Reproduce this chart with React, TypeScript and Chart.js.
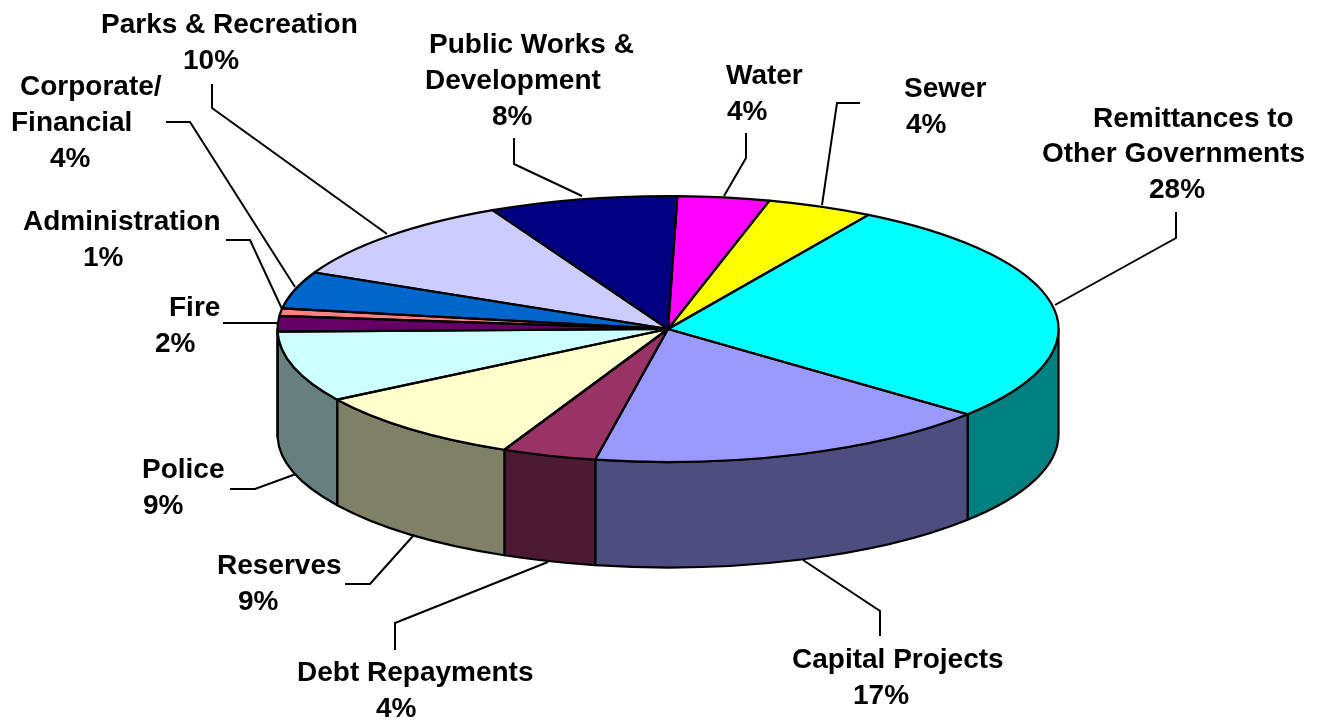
import React, { useEffect, useRef } from "react";
import { Chart, registerables } from "chart.js";

Chart.register(...registerables);

const categories = [
  "Remittances to\nOther Governments",
  "Capital Projects",
  "Debt Repayments",
  "Reserves",
  "Police",
  "Fire",
  "Administration",
  "Corporate/\nFinancial",
  "Parks & Recreation",
  "Public Works &\nDevelopment",
  "Water",
  "Sewer",
];
const percentLabels = ["28%", "17%", "4%", "9%", "9%", "2%", "1%", "4%", "10%", "8%", "4%", "4%"];
const values = [27.5, 16.9, 3.9, 9.2, 8.6, 1.9, 0.9, 4.5, 10.6, 7.8, 3.8, 4.4];
const sliceColors = ["#00FFFF", "#9999FF", "#993366", "#FFFFCC", "#CCFFFF", "#660066", "#FF8080", "#0066CC", "#CCCCFF", "#000080", "#FF00FF", "#FFFF00"];
const wallColors = ["#008080", "#4D4D80", "#4D1A33", "#808066", "#668080", "#330033", "#804040", "#003366", "#666680", "#000040", "#800080", "#808000"];

// Layout only: per-category text line anchors [left x, baseline y], and leader polylines.
const labelAnchors: number[][][] = [
  [[1093, 127], [1042, 162], [1149, 198]],
  [[792, 668], [853, 704]],
  [[297, 681], [376, 717]],
  [[217, 574], [238, 610]],
  [[142, 478], [143, 514]],
  [[169, 316], [155, 352]],
  [[23, 230], [83, 266]],
  [[20, 95], [11, 131], [50, 167]],
  [[101, 33], [183, 69]],
  [[429, 53], [425, 89], [492, 125]],
  [[726, 84], [727, 120]],
  [[904, 97], [906, 133]],
];
const leaders: number[][][] = [
  [[1176, 212], [1176, 238], [1055, 305]],
  [[880, 636], [880, 611], [803, 560]],
  [[395, 650], [395, 623], [548, 562]],
  [[345, 584], [370, 584], [413, 536]],
  [[230, 489], [255, 489], [296, 474]],
  [[223, 323], [278, 323]],
  [[226, 240], [250, 240], [282, 309]],
  [[166, 122], [190, 122], [295, 287]],
  [[212, 84], [212, 108], [387, 234]],
  [[514, 138], [514, 164], [582, 196]],
  [[746, 133], [746, 158], [724, 196]],
  [[860, 103], [837, 103], [822, 205]],
];

const CX = 668;
const CY = 329;
const RX = 390.5;
const RY = 133;
const DEPTH = 105.5;
const LABEL_FONT = 'bold 28px "Liberation Sans", Arial, sans-serif';

const pie3d = {
  id: "pie3d",
  beforeDatasetsDraw(chart: any) {
    const ctx = chart.ctx;
    const arcs = chart.getDatasetMeta(0).data;
    // Side walls: only the front half of the pie shows its rim.
    ctx.save();
    ctx.lineWidth = 2.2;
    ctx.strokeStyle = "#000";
    ctx.lineJoin = "round";
    arcs.forEach((arc: any, i: number) => {
      const s = Math.max(arc.startAngle, 0);
      const e = Math.min(arc.endAngle, Math.PI);
      if (s >= e) return;
      ctx.beginPath();
      ctx.ellipse(CX, CY, RX, RY, 0, s, e);
      ctx.ellipse(CX, CY + DEPTH, RX, RY, 0, e, s, true);
      ctx.closePath();
      ctx.fillStyle = wallColors[i];
      ctx.fill();
      ctx.stroke();
    });
    ctx.restore();
    // Squash the library's circular arcs to the tilted top face.
    const first = arcs[0];
    const r = first.outerRadius;
    ctx.save();
    ctx.translate(CX, CY);
    ctx.scale(RX / r, RY / r);
    ctx.translate(-first.x, -first.y);
  },
  afterDatasetsDraw(chart: any) {
    const ctx = chart.ctx;
    ctx.restore();
    const arcs = chart.getDatasetMeta(0).data;
    ctx.save();
    ctx.lineWidth = 2.2;
    ctx.strokeStyle = "#000";
    ctx.lineJoin = "round";
    arcs.forEach((arc: any) => {
      ctx.beginPath();
      ctx.moveTo(CX, CY);
      ctx.ellipse(CX, CY, RX, RY, 0, arc.startAngle, arc.endAngle);
      ctx.closePath();
      ctx.stroke();
    });
    // Leader lines
    ctx.lineWidth = 2;
    ctx.lineJoin = "miter";
    leaders.forEach((pts) => {
      ctx.beginPath();
      pts.forEach(([x, y], k) => (k ? ctx.lineTo(x, y) : ctx.moveTo(x, y)));
      ctx.stroke();
    });
    // Labels
    ctx.fillStyle = "#000";
    ctx.font = LABEL_FONT;
    ctx.textAlign = "left";
    ctx.textBaseline = "alphabetic";
    categories.forEach((name, i) => {
      const lines = [...name.split("\n"), percentLabels[i]];
      lines.forEach((t, k) => {
        const [x, y] = labelAnchors[i][k];
        ctx.fillText(t, x, y);
      });
    });
    ctx.restore();
  },
};

export default function App() {
  const ref = useRef<HTMLCanvasElement>(null);
  useEffect(() => {
    const chart = new Chart(ref.current!, {
      type: "pie",
      data: {
        labels: categories.map((c) => c.replace("\n", " ")),
        datasets: [{ data: values, backgroundColor: sliceColors, borderWidth: 0 }],
      },
      options: {
        animation: false,
        responsive: false,
        events: [],
        rotation: 30.9,
        layout: { padding: 0 },
        plugins: { legend: { display: false }, tooltip: { enabled: false } },
      },
      plugins: [pie3d],
    });
    return () => chart.destroy();
  }, []);
  return (
    <div style={{ position: "absolute", left: 0, top: 0, width: 1329, height: 721, background: "#fff" }}>
      <canvas ref={ref} width={1329} height={721} style={{ display: "block" }} />
    </div>
  );
}
